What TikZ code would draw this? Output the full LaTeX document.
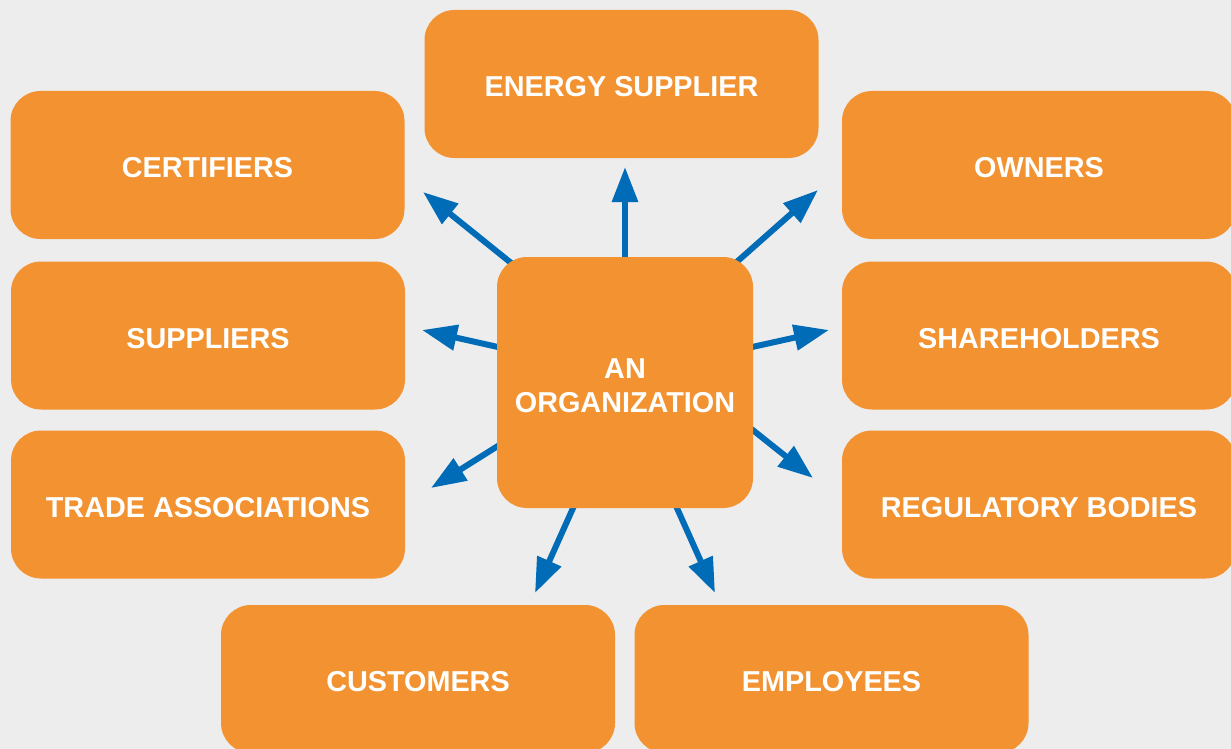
\documentclass[tikz,border=0pt]{standalone}
\usepackage{fontspec}
\setmainfont{Liberation Sans}
\usetikzlibrary{arrows.meta,calc}
\pgfdeclarelayer{background}
\pgfsetlayers{background,main}
\definecolor{boxorange}{RGB}{242,146,48}
\definecolor{bggray}{RGB}{237,237,237}
\definecolor{arrowblue}{RGB}{0,107,182}
\tikzset{
  stakebox/.style={rectangle, fill=boxorange, rounded corners=30pt, inner sep=0pt,
    minimum width=394pt, minimum height=148pt, text=white,
    text height=25pt, text depth=0pt,
    font=\fontsize{28.8pt}{34pt}\selectfont\bfseries},
  orgbox/.style={stakebox, text height={}, text depth={},
    minimum width=256pt, minimum height=251pt, align=center},
  outarrow/.style={draw=arrowblue, line width=6pt,
    -{Triangle[length=35pt,width=25pt]}, fill=arrowblue}
}
\begin{document}
\begin{tikzpicture}[x=1pt,y=-1pt]
\useasboundingbox (0,0) rectangle (1231,749);
\begin{pgfonlayer}{background}
  \fill[bggray] (0,0) rectangle (1231,749);
\end{pgfonlayer}
\clip (0,0) rectangle (1231,749);

\node[stakebox] (energy) at (621.5,84) {ENERGY SUPPLIER};
\node[stakebox] (cert) at (207.5,165) {CERTIFIERS};
\node[stakebox] (owners) at (1039,165) {OWNERS};
\node[stakebox] (suppl) at (208,335.5) {SUPPLIERS};
\node[stakebox] (share) at (1039,335.5) {SHAREHOLDERS};
\node[stakebox] (trade) at (208,504.5) {TRADE ASSOCIATIONS};
\node[stakebox] (reg) at (1039,504.5) {REGULATORY BODIES};
\node[stakebox] (cust) at (418,679) {CUSTOMERS};
\node[stakebox] (empl) at (831.5,679) {EMPLOYEES};
\node[orgbox] (org) at (625,382.5) {\rule{0pt}{27pt}AN\\ORGANIZATION};

\coordinate (tUp) at (625,167);
\coordinate (tUL) at (423,192);
\coordinate (tUR) at (818,190);
\coordinate (tL) at (422,330);
\coordinate (tR) at (829,330);
\coordinate (tDL) at (431,488);
\coordinate (tDR) at (813,478);
\coordinate (tBL) at (535,593);
\coordinate (tBR) at (715,593);

\begin{pgfonlayer}{background}
  \draw[outarrow] (org.center) -- (tUp);
  \draw[outarrow] ($(org.north west)+(29,18)$) -- (tUL);
  \draw[outarrow] ($(org.north east)+(-31,18)$) -- (tUR);
  \draw[outarrow] ($(org.west)+(10,-33.5)$) -- (tL);
  \draw[outarrow] ($(org.east)+(-10,-33.5)$) -- (tR);
  \draw[outarrow] ($(org.west)+(9,58.5)$) -- (tDL);
  \draw[outarrow] ($(org.east)+(-8,41.5)$) -- (tDR);
  \draw[outarrow] ($(org.south)+(-48,-9)$) -- (tBL);
  \draw[outarrow] ($(org.south)+(48,-9)$) -- (tBR);
\end{pgfonlayer}
\end{tikzpicture}
\end{document}
